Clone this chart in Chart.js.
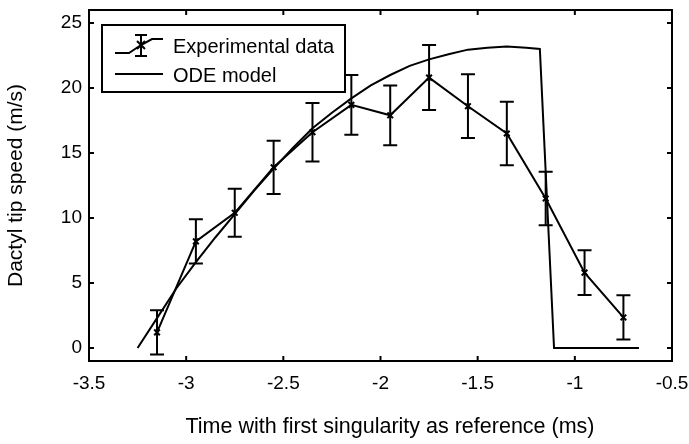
<!DOCTYPE html>
<html>
<head>
<meta charset="utf-8">
<script src="https://cdn.jsdelivr.net/npm/chart.js@4.4.0/dist/chart.umd.min.js"></script>
<style>
  html, body { margin: 0; padding: 0; background: #fff; }
  #wrap { width: 689px; height: 444px; }
</style>
</head>
<body>
<div id="wrap"><canvas id="myChart" width="689" height="444"></canvas></div>
<script>
const FONT = "'Liberation Sans Narrow', 'Arial Narrow', 'Liberation Sans', sans-serif";

// experimental data (time in ms, speed in m/s, +/- error)
const expTime = [-3.15, -2.95, -2.75, -2.55, -2.35, -2.15, -1.95, -1.75, -1.55, -1.35, -1.15, -0.95, -0.75];
const expSpeed = [1.2, 8.2, 10.4, 13.9, 16.6, 18.7, 17.9, 20.8, 18.6, 16.5, 11.5, 5.8, 2.35];
const expErr = [1.7, 1.7, 1.85, 2.05, 2.25, 2.3, 2.3, 2.5, 2.45, 2.45, 2.05, 1.72, 1.7];

// ODE model curve
const odeTime = [-3.25, -3.15, -3.05, -2.95, -2.85, -2.75, -2.65, -2.55, -2.45, -2.35, -2.25, -2.15,
  -2.05, -1.95, -1.85, -1.75, -1.65, -1.55, -1.45, -1.35, -1.25, -1.18, -1.107, -0.67];
const odeSpeed = [0, 2.3, 4.6, 6.6, 8.5, 10.3, 12.1, 13.8, 15.4, 16.9, 18.1, 19.2,
  20.2, 21.0, 21.7, 22.2, 22.6, 22.95, 23.1, 23.2, 23.1, 23.0, 0, 0];

const xTicks = [-3.5, -3, -2.5, -2, -1.5, -1, -0.5];
const yTicks = [0, 5, 10, 15, 20, 25];

const legendLabels = ['Experimental data', 'ODE model'];
const xTitle = 'Time with first singularity as reference (ms)';
const yTitle = 'Dactyl tip speed (m/s)';

// error bars + box with inward ticks + legend + x title
const extras = {
  id: 'extras',
  afterDatasetsDraw(chart) {
    const ctx = chart.ctx;
    const xs = chart.scales.x, ys = chart.scales.y;
    ctx.save();
    ctx.strokeStyle = '#000';
    ctx.lineWidth = 2;
    for (let i = 0; i < expTime.length; i++) {
      const px = xs.getPixelForValue(expTime[i]);
      const top = ys.getPixelForValue(expSpeed[i] + expErr[i]);
      const bot = ys.getPixelForValue(expSpeed[i] - expErr[i]);
      ctx.beginPath();
      ctx.moveTo(px, top); ctx.lineTo(px, bot);
      ctx.moveTo(px - 7, top); ctx.lineTo(px + 7, top);
      ctx.moveTo(px - 7, bot); ctx.lineTo(px + 7, bot);
      ctx.stroke();
    }
    ctx.restore();
  },
  afterDraw(chart) {
    const ctx = chart.ctx;
    const a = chart.chartArea;
    const xs = chart.scales.x, ys = chart.scales.y;
    ctx.save();
    ctx.strokeStyle = '#000';
    ctx.lineWidth = 2;
    ctx.strokeRect(a.left, a.top, a.right - a.left, a.bottom - a.top);
    ctx.beginPath();
    xTicks.forEach(v => {
      const p = xs.getPixelForValue(v);
      ctx.moveTo(p, a.bottom); ctx.lineTo(p, a.bottom - 5);
      ctx.moveTo(p, a.top); ctx.lineTo(p, a.top + 5);
    });
    yTicks.forEach(v => {
      const p = ys.getPixelForValue(v);
      ctx.moveTo(a.left, p); ctx.lineTo(a.left + 5, p);
      ctx.moveTo(a.right, p); ctx.lineTo(a.right - 5, p);
    });
    ctx.stroke();

    // legend
    const lx = 102, ly = 25, lw = 243, lh = 67;
    ctx.fillStyle = '#fff';
    ctx.fillRect(lx, ly, lw, lh);
    ctx.lineWidth = 2;
    ctx.strokeRect(lx, ly, lw, lh);
    ctx.beginPath();
    ctx.moveTo(115, 53); ctx.lineTo(129, 53); ctx.lineTo(141, 45); ctx.lineTo(152, 39); ctx.lineTo(163, 39);
    ctx.moveTo(141, 35); ctx.lineTo(141, 56);
    ctx.moveTo(135, 35); ctx.lineTo(147, 35);
    ctx.moveTo(135, 56); ctx.lineTo(147, 56);
    ctx.moveTo(137, 41); ctx.lineTo(145, 49);
    ctx.moveTo(145, 41); ctx.lineTo(137, 49);
    ctx.moveTo(115, 74); ctx.lineTo(163, 74);
    ctx.stroke();
    ctx.fillStyle = '#000';
    ctx.font = '20px ' + FONT;
    ctx.textBaseline = 'alphabetic';
    ctx.textAlign = 'left';
    ctx.fillText(legendLabels[0], 173, 53);
    ctx.fillText(legendLabels[1], 173, 82);

    // x axis title, sits a bit right of the plot centre in the original
    ctx.font = '21.5px ' + FONT;
    ctx.textAlign = 'center';
    ctx.fillText(xTitle, 390, 433);
    ctx.restore();
  }
};

const ctx = document.getElementById('myChart').getContext('2d');
const chart = new Chart(ctx, {
  type: 'line',
  data: {
    datasets: [{
      label: legendLabels[1],
      data: odeTime.map((t, i) => ({ x: t, y: odeSpeed[i] })),
      borderColor: '#000',
      borderWidth: 2,
      pointRadius: 0,
      tension: 0
    }, {
      label: legendLabels[0],
      data: expTime.map((t, i) => ({ x: t, y: expSpeed[i] })),
      borderColor: '#000',
      backgroundColor: '#000',
      borderWidth: 2,
      pointStyle: 'crossRot',
      pointRadius: 4,
      pointBorderWidth: 2,
      tension: 0
    }]
  },
  options: {
    responsive: false,
    animation: false,
    layout: { padding: { left: 0, right: 17, top: 10, bottom: 0 } },
    plugins: { legend: { display: false }, tooltip: { enabled: false } },
    scales: {
      x: {
        type: 'linear',
        min: -3.5, max: -0.5,
        afterBuildTicks: s => { s.ticks = xTicks.map(v => ({ value: v })); },
        afterFit: s => { s.height = 83; s.paddingLeft = 0; s.paddingRight = 0; },
        grid: { display: false, drawTicks: false },
        border: { display: false },
        ticks: { color: '#000', padding: 11, font: { family: FONT, size: 19 }, callback: v => String(v) }
      },
      y: {
        min: -1, max: 26,
        afterBuildTicks: s => { s.ticks = yTicks.map(v => ({ value: v })); },
        afterFit: s => { s.width = 89; s.paddingTop = 0; s.paddingBottom = 0; },
        grid: { display: false, drawTicks: false },
        border: { display: false },
        ticks: { color: '#000', padding: 7, font: { family: FONT, size: 19 } },
        title: { display: true, text: yTitle, color: '#000',
          font: { family: FONT, size: 21 }, padding: { bottom: 6 } }
      }
    }
  },
  plugins: [extras]
});
</script>
</body>
</html>
